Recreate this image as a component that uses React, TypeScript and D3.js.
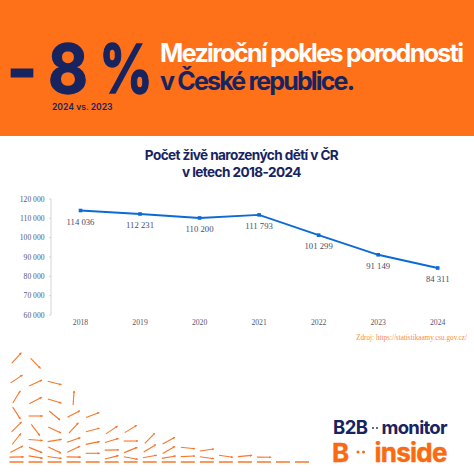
import React from "react";
import * as d3 from "d3";

const years = [2018, 2019, 2020, 2021, 2022, 2023, 2024];
const births = [114036, 112231, 110200, 111793, 101299, 91149, 84311];
const yTicks = [60000, 70000, 80000, 90000, 100000, 110000, 120000];
const titleLines = ["Počet živě narozených dětí v ČR", "v letech 2018-2024"];

// decorative arrows: one list per column, [height above baseline, angle in degrees]
const arrowColumns: number[][][] = [
  [[104, 48], [83, 34], [65, 58], [49, -57], [35, 45], [23, 52], [12.7, 28], [5, 1], [0, 0]],
  [[98.7, -46], [79, 25], [61.5, 27], [46, 0], [32, -53], [22, -4], [12, -22], [5, -9], [0, 0]],
  [[79, -14], [61, -17], [46.5, -40], [32, -25], [21.5, 9.5], [12, -26], [4.5, -8], [0, 0]],
  [[64, 86], [48, 28], [34, 48], [22, 19], [12.7, 26], [5, -1], [0, 0]],
  [[47, 20.5], [32, 15], [19, 11], [8.7, 0], [0, 0]],
  [[32, 33.7], [21.5, 17], [12, 1.4], [4.7, 14], [0, 0]],
  [[33, 31], [21, 0], [12, 22], [4, -10], [0, 0]],
  [[23.7, 46], [13.7, 31], [5.5, 10], [0, 0]],
  [[21.3, 29], [12, 30], [4.8, 10], [0, 0]],
  [[14, -6], [5.7, 3], [0, 0]],
  [[12, 8], [4.3, -8], [0, 0]],
  [[5.7, -8], [0, 0]],
  [[6, 5], [0, 0]],
  [[4.8, -1], [0, 0]],
  [[0, 0]],
  [[0, 0]],
];

const NAVY = "#17245f";
const ORANGE = "#ff7119";
const LOGO_ORANGE = "#fb6a10";
const ARROW = "#f9772a";
const SANS = "Inter, sans-serif";
const SERIF = "'Liberation Serif', serif";
const GREY = "#55556e";

const fmt = d3.formatLocale({ decimal: ",", thousands: " ", grouping: [3], currency: ["", ""] }).format(",d");

export default function App() {
  const x = d3.scalePoint<number>().domain(years).range([80.5, 437.7]);
  const y = d3.scaleLinear().domain([60000, 120000]).range([315, 199]);
  const line = d3.line<number>().x((_, i) => x(years[i])!).y((d) => y(d));
  const square = d3.symbol().type(d3.symbolSquare).size(13)()!;
  const colX = d3.scaleLinear().domain([0, 15]).range([16.5, 302]);
  const baseY = d3.scaleLinear().domain([0, 104]).range([462, 358]);
  const arrowLen = 14;

  return (
    <svg width={474} height={474} style={{ position: "absolute", left: 0, top: 0, display: "block", background: "#fff" }}>
      <defs>
        <marker id="tip" viewBox="0 0 4 4" refX="3" refY="2" markerWidth="2.6" markerHeight="2.6" orient="auto">
          <path d="M0,0.4 L4,2 L0,3.6 Z" fill={ARROW} />
        </marker>
      </defs>
      <rect x={0} y={0} width={474} height={136} fill={ORANGE} />
      <text x={11} y={93} fontFamily={SANS} fontWeight={700} fontSize={68} fill={NAVY} stroke={NAVY} strokeWidth={1} textLength={22} lengthAdjust="spacingAndGlyphs">–</text>
      <text x={48} y={93} fontFamily={SANS} fontWeight={700} fontSize={68} fill={NAVY} stroke={NAVY} strokeWidth={1.4} textLength={40} lengthAdjust="spacingAndGlyphs">8</text>
      <text x={99} y={93} fontFamily={SANS} fontWeight={700} fontSize={68} fill={NAVY} stroke={NAVY} strokeWidth={1.4} textLength={54} lengthAdjust="spacingAndGlyphs">%</text>
      <text x={52} y={110} fontFamily={SANS} fontWeight={600} fontSize={8.6} fill={NAVY}>2024 vs. 2023</text>
      <text x={160} y={62} fontFamily={SANS} fontWeight={700} fontSize={25} fill="#fff" textLength={304} lengthAdjust="spacing">Meziroční pokles porodnosti</text>
      <text x={160} y={90} fontFamily={SANS} fontWeight={700} fontSize={25} fill={NAVY} textLength={195} lengthAdjust="spacing">v České republice.</text>

      {titleLines.map((t, i) => (
        <text key={t} x={241.5} y={160 + i * 17} textAnchor="middle" fontFamily={SANS} fontWeight={700} fontSize={13.6} letterSpacing={-0.6} fill={NAVY}>{t}</text>
      ))}

      <line x1={51} x2={51} y1={y(120000)} y2={y(60000)} stroke="#c9c9d2" strokeWidth={0.8} />
      {yTicks.map((t) => (
        <g key={t}>
          <line x1={49} x2={51} y1={y(t)} y2={y(t)} stroke="#c9c9d2" strokeWidth={0.8} />
          <text x={44.5} y={y(t)} dy="0.34em" textAnchor="end" fontFamily={SERIF} fontSize={7.6} fill={GREY}>{fmt(t)}</text>
        </g>
      ))}
      {years.map((yr) => (
        <text key={yr} x={x(yr)} y={325} textAnchor="middle" fontFamily={SERIF} fontSize={7.7} fill={GREY}>{yr}</text>
      ))}
      <path d={line(births)!} fill="none" stroke="#0b6ad6" strokeWidth={1.9} />
      {births.map((b, i) => (
        <g key={years[i]}>
          <path d={square} transform={`translate(${x(years[i])},${y(b)})`} fill="#0b6ad6" />
          <text x={x(years[i])} y={y(b) + 14} textAnchor="middle" fontFamily={SERIF} fontSize={8.7} fill="#4b4b66">{fmt(b)}</text>
        </g>
      ))}
      <text x={467} y={340} textAnchor="end" fontFamily={SERIF} fontSize={7.2} fill="#fb8a45">Zdroj: https://statistikaamy.csu.gov.cz/</text>

      {arrowColumns.map((col, c) =>
        col.map(([h, a], r) => {
          const rad = (a * Math.PI) / 180;
          const dx = (Math.cos(rad) * arrowLen) / 2;
          const dy = (Math.sin(rad) * arrowLen) / 2;
          const cx = colX(c);
          const cy = baseY(h);
          const base = h === 0;
          return (
            <line key={`${c}-${r}`} x1={cx - dx} y1={cy + dy} x2={cx + dx} y2={cy - dy}
              stroke={ARROW} strokeWidth={base ? 1.5 : 1.1} markerEnd={base ? undefined : "url(#tip)"} />
          );
        })
      )}

      <text x={333} y={434} fontFamily={SANS} fontWeight={700} fontSize={18.5} fill={NAVY} textLength={35} lengthAdjust="spacing">B2B</text>
      <circle cx={373} cy={428} r={0.9} fill={NAVY} />
      <circle cx={377} cy={428} r={0.9} fill={NAVY} />
      <text x={381.5} y={434} fontFamily={SANS} fontWeight={700} fontSize={18.5} fill={NAVY} textLength={66} lengthAdjust="spacing">monitor</text>
      <text x={332} y={461.5} fontFamily={SANS} fontWeight={700} fontSize={26} fill={LOGO_ORANGE} stroke={LOGO_ORANGE} strokeWidth={0.4}>B</text>
      <circle cx={358} cy={452} r={1.5} fill={LOGO_ORANGE} />
      <circle cx={363.5} cy={452} r={1.5} fill={LOGO_ORANGE} />
      <text x={374.5} y={461.5} fontFamily={SANS} fontWeight={700} fontSize={26} fill={LOGO_ORANGE} stroke={LOGO_ORANGE} strokeWidth={0.4} textLength={73} lengthAdjust="spacing">inside</text>
    </svg>
  );
}
